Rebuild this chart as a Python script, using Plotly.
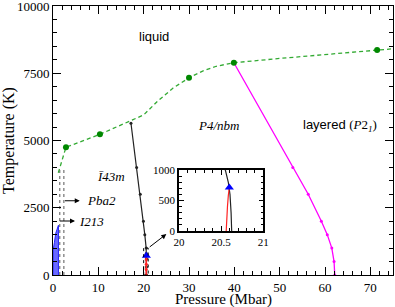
import plotly.graph_objects as go

# melting curve (green)
melt_p = [1.17, 2.86, 10.35, 17.7, 20.0, 23.0, 26.5, 30.0, 33.0, 36.0, 39.9, 50.0, 60.0, 71.5, 75.0]
melt_t = [3800, 4750, 5230, 5760, 5950, 6450, 6950, 7330, 7580, 7760, 7890, 8050, 8200, 8363, 8410]
melt_mk_p = [2.86, 10.35, 30.0, 39.9, 71.5]
melt_mk_t = [4750, 5230, 7330, 7890, 8363]

# I-43m / P4/nbm boundary (black)
blk_p = [17.2, 18.45, 19.25, 19.95, 20.25, 20.55, 20.585, 20.605, 20.618, 20.625]
blk_t = [5640, 4000, 3000, 2000, 1500, 1000, 800, 600, 300, 0]

# red boundary
red_p = [20.56, 20.565, 20.575, 20.585, 20.597]
red_t = [0, 200, 400, 580, 716]

# triple point (blue triangle)
tri_p = [20.597]
tri_t = [716]

# P4/nbm / layered boundary (magenta)
mag_p = [39.9, 52.9, 56.3, 59.2, 60.5, 61.5, 62.0, 62.15]
mag_t = [7890, 4000, 3000, 2000, 1500, 1000, 500, 0]

# low-pressure blue region
blue_p = [0, 0, 0.3, 0.6, 0.9, 1.2, 1.2]
blue_t = [0, 900, 1200, 1550, 1700, 1850, 0]

# dotted vertical lines
dot_p = [1.5, 2.4]
dot_top = 4000

y_ticks = [0, 2500, 5000, 7500, 10000]
y_labels = ["0", "2500", "5000", "7500", "10000"]

SERIF = "Liberation Serif"
SANS = "Liberation Sans"

fig = go.Figure()

fig.add_trace(go.Scatter(x=blue_p, y=blue_t, fill="toself", fillcolor="rgba(80,80,255,0.85)",
                         line=dict(color="#2222ff", width=1), mode="lines", hoverinfo="skip"))
for p in dot_p:
    fig.add_trace(go.Scatter(x=[p, p], y=[0, dot_top], mode="lines",
                             line=dict(color="#555", width=1, dash="dot")))
fig.add_trace(go.Scatter(x=mag_p, y=mag_t, mode="lines+markers",
                         line=dict(color="#ff00ff", width=1.3), marker=dict(size=3, color="#ff00ff")))
fig.add_trace(go.Scatter(x=blk_p, y=blk_t, mode="lines+markers",
                         line=dict(color="#222", width=1.2), marker=dict(size=3, color="#222")))
fig.add_trace(go.Scatter(x=red_p, y=red_t, mode="lines+markers",
                         line=dict(color="#ff2222", width=1.5), marker=dict(size=3, color="#ff2222")))
fig.add_trace(go.Scatter(x=tri_p, y=tri_t, mode="markers",
                         marker=dict(symbol="triangle-up", size=8, color="#0000ff")))
fig.add_trace(go.Scatter(x=melt_p, y=melt_t, mode="lines",
                         line=dict(color="#33aa33", width=1.3, dash="4px,3px")))
fig.add_trace(go.Scatter(x=melt_mk_p, y=melt_mk_t, mode="markers",
                         marker=dict(color="#008800", size=6, symbol="circle")))

# inset traces
fig.add_trace(go.Scatter(x=blk_p, y=blk_t, mode="lines", xaxis="x2", yaxis="y2",
                         line=dict(color="#222", width=1.2)))
fig.add_trace(go.Scatter(x=red_p, y=red_t, mode="lines", xaxis="x2", yaxis="y2",
                         line=dict(color="#ff2222", width=1.2)))
fig.add_trace(go.Scatter(x=tri_p, y=tri_t, mode="markers", xaxis="x2", yaxis="y2",
                         marker=dict(symbol="triangle-up", size=8, color="#0000ff")))

# invisible trace for mirrored (top/right) tick axes
fig.add_trace(go.Scatter(x=[0], y=[0], xaxis="x3", yaxis="y3", mode="markers",
                         marker=dict(opacity=0), hoverinfo="skip"))

fig.add_shape(type="rect", x0=20, x1=21, y0=0, y1=1000, xref="x", yref="y",
              line=dict(color="black", width=1, dash="dot"))

ax_common = dict(showline=True, linecolor="black", linewidth=1, mirror=True,
                 ticks="inside", tickcolor="black", showgrid=False, zeroline=False,
                 automargin=False, ticklabeloverflow="allow",
                 tickfont=dict(family=SERIF, size=13, color="black"))

fig.update_layout(
    width=395, height=307, showlegend=False,
    paper_bgcolor="white", plot_bgcolor="white",
    margin=dict(l=53, r=2, t=6, b=32),
    xaxis=dict(range=[0, 75], dtick=10, ticklen=8, tickwidth=1.2,
               minor=dict(dtick=2, ticks="inside", ticklen=4, tickcolor="black"),
               **ax_common),
    yaxis=dict(range=[0, 10000], tickvals=y_ticks, ticktext=y_labels, ticklen=8, tickwidth=1.2,
               minor=dict(dtick=500, ticks="inside", ticklen=4, tickcolor="black"),
               title=dict(text="Temperature (K)", font=dict(family=SERIF, size=16, color="black"), standoff=3),
               **ax_common),
    xaxis3=dict(range=[0, 75], dtick=10, ticklen=8, tickwidth=1.2, overlaying="x", side="top",
                anchor="y3", ticks="inside", tickcolor="black", showticklabels=False,
                showgrid=False, zeroline=False, showline=False, automargin=False,
                minor=dict(dtick=2, ticks="inside", ticklen=4, tickcolor="black")),
    yaxis3=dict(range=[0, 10000], tickvals=y_ticks, ticklen=8, tickwidth=1.2, overlaying="y", side="right",
                anchor="x3", ticks="inside", tickcolor="black", showticklabels=False,
                showgrid=False, zeroline=False, showline=False, automargin=False,
                minor=dict(dtick=500, ticks="inside", ticklen=4, tickcolor="black")),
    xaxis2=dict(domain=[0.3706, 0.6185], anchor="y2", range=[20, 21], tickvals=[20, 20.5, 21],
                ticktext=["20", "20.5", "21"], ticklen=5, automargin=False,
                minor=dict(dtick=0.1, ticks="inside", ticklen=3, tickcolor="black"),
                showline=True, linecolor="black", linewidth=1.5, mirror="allticks",
                ticks="inside", tickcolor="black", showgrid=False, zeroline=False,
                tickfont=dict(family=SERIF, size=11, color="black")),
    yaxis2=dict(domain=[0.1636, 0.390], anchor="x2", range=[0, 1000], tickvals=[0, 500, 1000], ticklen=5,
                automargin=False,
                minor=dict(dtick=100, ticks="inside", ticklen=3, tickcolor="black"),
                showline=True, linecolor="black", linewidth=1.5, mirror="allticks",
                ticks="inside", tickcolor="black", showgrid=False, zeroline=False,
                tickfont=dict(family=SERIF, size=11, color="black")),
)

ann = []
ann.append(dict(x=0.5, y=-0.09, xref="paper", yref="paper", text="Pressure (Mbar)", showarrow=False,
                yanchor="middle", font=dict(family=SERIF, size=15, color="black")))
ann.append(dict(x=22.3, y=8884, text="liquid", showarrow=False,
                font=dict(family=SANS, size=13, color="black")))
ann.append(dict(x=36.4, y=5550, text="<i>P4/nbm</i>", showarrow=False,
                font=dict(family=SERIF, size=13, color="black")))
ann.append(dict(x=63.4, y=5550,
                text="layered <span style='font-family:Liberation Serif'>(<i>P</i>2<sub><i>1</i></sub>)</span>",
                showarrow=False, font=dict(family=SANS, size=13, color="black")))
ann.append(dict(x=12.7, y=3654, text="<i>Ī43m</i>", showarrow=False,
                font=dict(family=SERIF, size=13, color="black")))
ann.append(dict(x=10.8, y=2760, text="<i>Pba2</i>", showarrow=False,
                font=dict(family=SERIF, size=13, color="black")))
ann.append(dict(x=8.5, y=2007, text="<i>I213</i>", showarrow=False,
                font=dict(family=SERIF, size=13, color="black")))
# arrows
ann.append(dict(x=5.9, y=2760, ax=2.3, ay=2760, axref="x", ayref="y", xref="x", yref="y",
                text="", showarrow=True, arrowhead=2, arrowsize=1, arrowwidth=1, arrowcolor="black"))
ann.append(dict(x=4.85, y=2007, ax=1.17, ay=2007, axref="x", ayref="y", xref="x", yref="y",
                text="", showarrow=True, arrowhead=2, arrowsize=1, arrowwidth=1, arrowcolor="black"))
ann.append(dict(x=25.0, y=1520, ax=21.0, ay=1000, axref="x", ayref="y", xref="x", yref="y",
                text="", showarrow=True, arrowhead=2, arrowsize=1, arrowwidth=1, arrowcolor="black"))
fig.update_layout(annotations=ann)

fig.write_html("out.html", config={"displayModeBar": False},
               post_script="document.body.style.margin='0';")
